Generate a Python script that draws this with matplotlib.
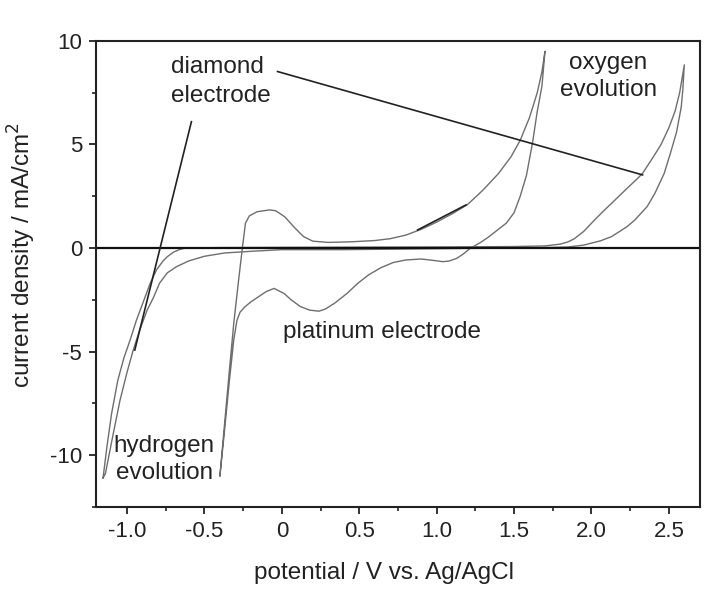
import matplotlib
matplotlib.use("Agg")
import matplotlib.pyplot as plt
from matplotlib.ticker import MultipleLocator

plt.rcParams['font.family'] = ['Liberation Sans', 'DejaVu Sans']
plt.rcParams['axes.unicode_minus'] = False

# Platinum electrode CV (anodic sweep then cathodic sweep), V / mA cm^-2
pt_anodic_v = [-0.40, -0.37, -0.34, -0.31, -0.28, -0.255, -0.235, -0.21, -0.16, -0.08,
               -0.04, 0.02, 0.08, 0.14, 0.20, 0.30, 0.45, 0.60, 0.70, 0.80, 0.90,
               1.00, 1.10, 1.20, 1.30, 1.40, 1.48, 1.54, 1.60, 1.65, 1.68, 1.70]
pt_anodic_j = [-11.0, -8.5, -6.0, -3.6, -1.6, 0.0, 1.2, 1.55, 1.75, 1.84,
               1.80, 1.5, 1.0, 0.55, 0.33, 0.27, 0.30, 0.36, 0.45, 0.62, 0.90,
               1.25, 1.65, 2.1, 2.8, 3.6, 4.4, 5.2, 6.3, 7.5, 8.5, 9.5]
pt_cathodic_v = [1.70, 1.68, 1.65, 1.62, 1.58, 1.54, 1.50, 1.45, 1.39, 1.33, 1.28, 1.22,
                 1.17, 1.13, 1.08, 1.04, 0.98, 0.90, 0.80, 0.72, 0.64, 0.56, 0.49, 0.42,
                 0.34, 0.28, 0.24, 0.18, 0.12, 0.06, 0.015, -0.05, -0.10, -0.14, -0.20,
                 -0.24, -0.27, -0.29, -0.31, -0.34, -0.37, -0.40]
pt_cathodic_j = [9.5, 7.8, 6.6, 5.1, 3.5, 2.5, 1.7, 1.2, 0.85, 0.5, 0.25, 0.0,
                 -0.3, -0.5, -0.63, -0.66, -0.6, -0.53, -0.58, -0.7, -0.95, -1.3, -1.71, -2.2,
                 -2.67, -2.95, -3.05, -3.0, -2.83, -2.5, -2.2, -1.95, -2.1, -2.3, -2.6,
                 -2.85, -3.1, -3.5, -4.4, -6.5, -8.8, -11.0]

# Diamond electrode CV
dia_anodic_v = [-1.155, -1.13, -1.10, -1.06, -1.02, -0.98, -0.94, -0.89, -0.85, -0.81,
                -0.77, -0.74, -0.70, -0.66, -0.62, -0.40, 0.0, 0.5, 1.0, 1.5, 1.70,
                1.80, 1.85, 1.89, 1.95, 2.02, 2.08, 2.15, 2.23, 2.29, 2.33, 2.40, 2.45,
                2.50, 2.54, 2.57, 2.60]
dia_anodic_j = [-11.1, -9.6, -8.0, -6.4, -5.3, -4.44, -3.5, -2.5, -1.7, -1.06,
                -0.65, -0.42, -0.2, -0.07, 0.0, 0.02, 0.03, 0.04, 0.05, 0.07, 0.10,
                0.19, 0.30, 0.45, 0.8, 1.35, 1.8, 2.3, 2.88, 3.3, 3.6, 4.4, 5.0,
                5.8, 6.6, 7.5, 8.84]
dia_cathodic_v = [2.60, 2.59, 2.58, 2.55, 2.51, 2.47, 2.41, 2.36, 2.28, 2.23, 2.13, 2.06,
                  1.95, 1.85, 1.60, 1.20, 0.80, 0.40, 0.0, -0.20, -0.37, -0.50, -0.60,
                  -0.68, -0.74, -0.79, -0.83, -0.87, -0.92, -0.96, -1.00, -1.045, -1.09,
                  -1.14, -1.155]
dia_cathodic_j = [8.84, 7.6, 6.8, 5.6, 4.57, 3.6, 2.64, 2.0, 1.35, 1.03, 0.55, 0.35,
                  0.14, 0.05, 0.0, -0.02, -0.05, -0.08, -0.08, -0.16, -0.24, -0.40, -0.62,
                  -0.9, -1.2, -1.7, -2.4, -3.0, -4.0, -4.93, -6.0, -7.34, -9.0,
                  -10.9, -11.1]

# leader lines from the labels to the curves
leaders = [
    ([-0.584, -0.95], [6.1, -4.93]),
    ([-0.028, 2.33], [8.52, 3.53]),
    ([0.877, 1.19], [0.87, 2.08]),
]

fig = plt.figure(figsize=(7.17, 6.10), dpi=100)
ax = fig.add_axes([0.134, 0.169, 0.842, 0.764])

curve_col = '#6e6e6e'
ax.plot(pt_anodic_v + pt_cathodic_v, pt_anodic_j + pt_cathodic_j, color=curve_col, lw=1.0)
ax.plot(dia_anodic_v + dia_cathodic_v, dia_anodic_j + dia_cathodic_j, color=curve_col, lw=1.0)
ax.axhline(0, color='#111111', lw=1.6)
for xs, ys in leaders:
    ax.plot(xs, ys, color='#222222', lw=1.2)

ax.set_xlim(-1.2, 2.7)
ax.set_ylim(-12.5, 10)
ax.xaxis.set_major_locator(MultipleLocator(0.5))
ax.xaxis.set_minor_locator(MultipleLocator(0.25))
ax.yaxis.set_major_locator(MultipleLocator(5))
ax.yaxis.set_minor_locator(MultipleLocator(2.5))
ax.set_xticks([-1.0, -0.5, 0, 0.5, 1.0, 1.5, 2.0, 2.5])
ax.set_xticklabels(['-1.0', '-0.5', '0', '0.5', '1.0', '1.5', '2.0', '2.5'])
ax.set_yticks([-10, -5, 0, 5, 10])
ax.set_yticklabels(['-10', '-5', '0', '5', '10'])
ax.tick_params(which='major', direction='out', length=5, width=1.3, labelsize=16,
               pad=5, colors='#222222')
ax.tick_params(which='minor', direction='out', length=3, width=1.2, colors='#222222')
for s in ax.spines.values():
    s.set_linewidth(1.5)
    s.set_color('#222222')

ax.set_xlabel('potential / V vs. Ag/AgCl', fontsize=17.5, color='#222222')
ax.set_ylabel('current density / mA/cm$^2$', fontsize=17.5, color='#222222')
ax.xaxis.set_label_coords(0.477, -0.118)
ax.yaxis.set_label_coords(-0.097, 0.54)

tkw = dict(fontsize=17.5, color='#222222')
ax.text(-0.715, 8.44, 'diamond', ha='left', va='baseline', **tkw)
ax.text(-0.715, 7.07, 'electrode', ha='left', va='baseline', **tkw)
ax.text(2.11, 8.63, 'oxygen', ha='center', va='baseline', **tkw)
ax.text(2.11, 7.34, 'evolution', ha='center', va='baseline', **tkw)
ax.text(-0.76, -9.83, 'hydrogen', ha='center', va='baseline', **tkw)
ax.text(-0.76, -11.16, 'evolution', ha='center', va='baseline', **tkw)
ax.text(0.005, -4.35, 'platinum electrode', ha='left', va='baseline', **tkw)

fig.savefig('out.png', dpi=100)
